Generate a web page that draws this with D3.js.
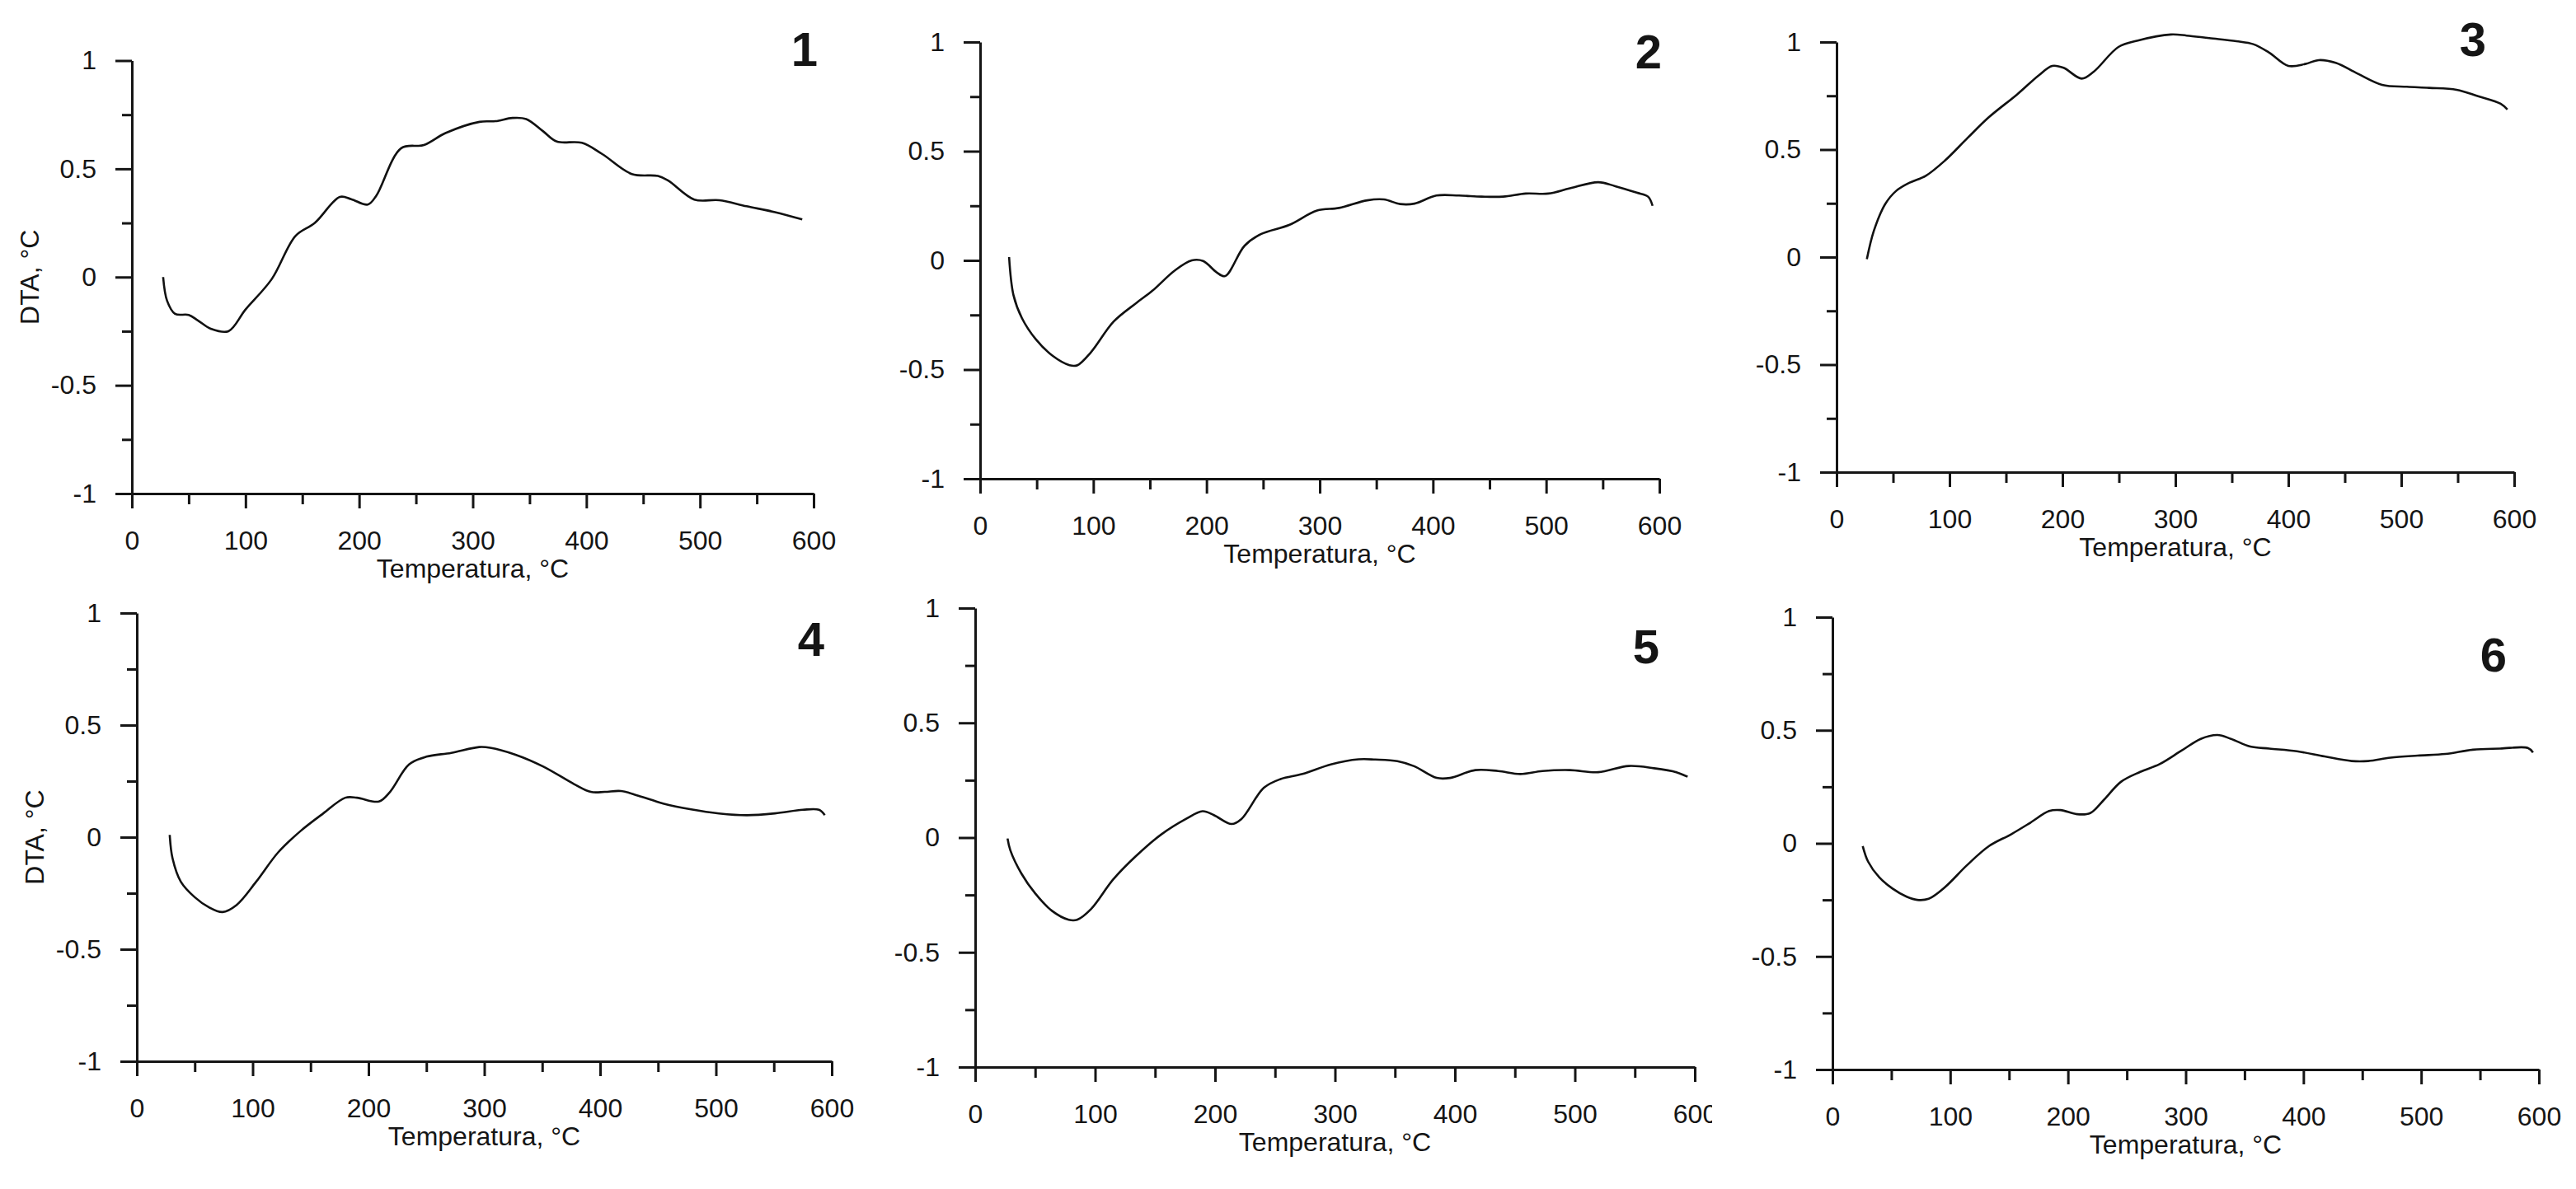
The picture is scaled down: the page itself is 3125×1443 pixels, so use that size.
<!DOCTYPE html>
<html>
<head>
<meta charset="utf-8">
<script src="https://cdn.jsdelivr.net/npm/d3@7"></script>
<style>
  body { margin: 0; background: #fff; }
  text { font-family: 'Liberation Sans', Arial, sans-serif; fill: #151515; }
</style>
</head>
<body>
<svg id="chart" width="3125" height="1443"></svg>
<script>
// DTA curves (temperature in °C, DTA in °C)
var temp1 = [27.5, 31, 38, 50, 58, 70, 85, 100, 123, 144, 161, 183, 193, 207.6, 215, 237, 257, 276, 306, 320, 335, 347, 362, 374, 396, 414, 440, 463, 472, 495, 517, 541, 566, 590]
var dta1 = [0, -0.11, -0.17, -0.175, -0.2, -0.24, -0.25, -0.15, -0.01, 0.19, 0.25, 0.37, 0.36, 0.335, 0.375, 0.595, 0.61, 0.665, 0.717, 0.72, 0.735, 0.73, 0.673, 0.626, 0.62, 0.568, 0.476, 0.467, 0.446, 0.358, 0.355, 0.327, 0.3, 0.266]

var temp2 = [25.6, 29.5, 37, 49, 64, 79, 86, 98, 118, 138, 152, 172, 187, 197, 209, 216.4, 233.6, 248, 273, 297.6, 317, 342, 356.6, 371, 383.7, 403, 423, 443, 462, 482, 502, 521, 546, 561, 580, 590, 594]
var dta2 = [0.015, -0.16, -0.265, -0.36, -0.437, -0.48, -0.48, -0.42, -0.28, -0.195, -0.14, -0.046, 0, -0.003, -0.055, -0.072, 0.067, 0.12, 0.162, 0.228, 0.24, 0.275, 0.279, 0.258, 0.26, 0.297, 0.297, 0.292, 0.292, 0.306, 0.306, 0.33, 0.358, 0.34, 0.31, 0.292, 0.25]

var temp3 = [26.8, 33, 43, 52.6, 64.7, 79, 96, 116, 135, 160, 179, 191, 201, 217, 227.7, 249.6, 266.7, 296, 310, 330, 354, 369, 383, 400, 415, 427, 442, 461, 483, 505, 524.6, 549, 568, 588, 594]
var dta3 = [-0.01, 0.122, 0.246, 0.307, 0.346, 0.378, 0.449, 0.554, 0.651, 0.757, 0.845, 0.889, 0.88, 0.83, 0.862, 0.977, 1.007, 1.035, 1.03, 1.018, 1.004, 0.99, 0.951, 0.889, 0.898, 0.916, 0.903, 0.854, 0.801, 0.792, 0.787, 0.778, 0.748, 0.713, 0.686]

var temp4 = [28.4, 30.8, 38, 50, 62, 74, 86, 103, 122, 141.5, 161, 180, 190, 209, 218.6, 235, 250, 271.5, 295.6, 305, 327, 351, 377.5, 392, 404, 418, 433, 454.5, 478.6, 502.6, 526.7, 551, 575, 589, 594]
var dta4 = [0.01, -0.094, -0.199, -0.268, -0.312, -0.334, -0.303, -0.199, -0.068, 0.028, 0.106, 0.176, 0.176, 0.159, 0.202, 0.324, 0.359, 0.376, 0.402, 0.399, 0.368, 0.315, 0.237, 0.202, 0.202, 0.206, 0.185, 0.15, 0.124, 0.106, 0.098, 0.106, 0.122, 0.122, 0.098]

var temp5 = [27, 29.3, 38.6, 50, 64, 78, 85, 96.7, 115, 134, 155, 175.7, 189.6, 199, 213.8, 222, 240.7, 254.6, 273, 296.5, 319.7, 333.6, 352, 366, 384.8, 396, 417, 436, 454.5, 473, 496, 519.5, 545, 566, 584.6, 594]
var dta5 = [-0.004, -0.055, -0.157, -0.243, -0.319, -0.358, -0.358, -0.311, -0.183, -0.081, 0.013, 0.081, 0.115, 0.098, 0.059, 0.081, 0.217, 0.255, 0.277, 0.319, 0.341, 0.34, 0.333, 0.311, 0.26, 0.26, 0.294, 0.29, 0.277, 0.29, 0.294, 0.285, 0.312, 0.302, 0.285, 0.265]

var temp6 = [25.7, 30.3, 39.7, 51, 63, 72, 81.7, 95.7, 114, 133, 151.7, 168, 184, 193.7, 207.7, 219, 231, 245, 261.4, 277.8, 296.5, 312.8, 327, 338.5, 354.8, 371, 394.5, 418, 441, 455, 474, 497, 520.5, 543.9, 567, 590.6, 595]
var dta6 = [-0.012, -0.081, -0.15, -0.2, -0.236, -0.25, -0.245, -0.193, -0.098, -0.012, 0.04, 0.091, 0.143, 0.147, 0.129, 0.134, 0.195, 0.272, 0.316, 0.35, 0.41, 0.462, 0.479, 0.462, 0.428, 0.419, 0.407, 0.384, 0.364, 0.364, 0.379, 0.388, 0.395, 0.414, 0.419, 0.422, 0.402]

var panelNames = ['1', '2', '3', '4', '5', '6']
var xTicks = [0, 50, 100, 150, 200, 250, 300, 350, 400, 450, 500, 550, 600]
var yTicks = [-1, -0.75, -0.5, -0.25, 0, 0.25, 0.5, 0.75, 1]
var xTitle = 'Temperatura, °C'
var yTitle = 'DTA, °C'

var temps = [temp1, temp2, temp3, temp4, temp5, temp6]
var dtas = [dta1, dta2, dta3, dta4, dta5, dta6]

// where each small plot sits on the page
var layout = [
    {left: 160, right: 987, top: 73.5, bottom: 599, numX: 976, numY: 80, yTitle: true, clipRight: 1060},
    {left: 1189, right: 2013, top: 51, bottom: 581, numX: 2000, numY: 83, yTitle: false, clipRight: 2100},
    {left: 2228, right: 3050, top: 51, bottom: 573, numX: 3000, numY: 68, yTitle: false, clipRight: 3125},
    {left: 166, right: 1009, top: 744, bottom: 1288, numX: 984, numY: 796, yTitle: true, clipRight: 1060},
    {left: 1183, right: 2056, top: 738, bottom: 1295, numX: 1997, numY: 805, yTitle: false, clipRight: 2077},
    {left: 2223, right: 3080, top: 749, bottom: 1298, numX: 3025, numY: 815, yTitle: false, clipRight: 3125}
]

var svg = d3.select('#chart')

var isMajorY = function(d) { return (d * 2) % 1 === 0 }
var isMajorX = function(d) { return d % 100 === 0 }

var drawPanel = function(i) {
    var p = layout[i]
    var x = d3.scaleLinear().domain([0, 600]).range([p.left, p.right])
    var y = d3.scaleLinear().domain([-1, 1]).range([p.bottom, p.top])

    svg.append('clipPath')
        .attr('id', 'clip' + i)
        .append('rect')
        .attr('x', p.left - 200)
        .attr('y', p.top - 80)
        .attr('width', p.clipRight - p.left + 200)
        .attr('height', p.bottom - p.top + 200)

    var g = svg.append('g').attr('clip-path', 'url(#clip' + i + ')')

    var yAxis = d3.axisLeft(y)
        .tickValues(yTicks)
        .tickSize(20)
        .tickSizeOuter(0)
        .tickPadding(23)
        .tickFormat(function(d) { return isMajorY(d) ? String(d) : '' })

    var xAxis = d3.axisBottom(x)
        .tickValues(xTicks)
        .tickSize(18)
        .tickSizeOuter(0)
        .tickPadding(27)
        .tickFormat(function(d) { return isMajorX(d) ? String(d) : '' })

    var ya = g.append('g')
        .attr('transform', 'translate(' + p.left + ',0)')
        .call(yAxis)
    var xa = g.append('g')
        .attr('transform', 'translate(0,' + p.bottom + ')')
        .call(xAxis)

    // minor ticks are shorter
    ya.selectAll('.tick line').filter(function(d) { return !isMajorY(d) }).attr('x2', -12)
    xa.selectAll('.tick line').filter(function(d) { return !isMajorX(d) }).attr('y2', 13)

    ;[ya, xa].forEach(function(a) {
        a.selectAll('path, line').attr('stroke', '#151515').attr('stroke-width', 3)
        a.selectAll('text').style('font-size', '32px').style('font-family', null).attr('fill', '#151515')
    })

    var pts = temps[i].map(function(t, k) { return [t, dtas[i][k]] })
    var line = d3.line()
        .x(function(d) { return x(d[0]) })
        .y(function(d) { return y(d[1]) })
        .curve(d3.curveCatmullRom)

    g.append('path')
        .datum(pts)
        .attr('d', line)
        .attr('fill', 'none')
        .attr('stroke', '#111')
        .attr('stroke-width', 2.6)

    g.append('text')
        .attr('x', (p.left + p.right) / 2)
        .attr('y', p.bottom + 102)
        .attr('text-anchor', 'middle')
        .style('font-size', '32px')
        .text(xTitle)

    if (p.yTitle) {
        g.append('text')
            .attr('transform', 'translate(' + (p.left - 113) + ',' + y(0) + ') rotate(-90)')
            .attr('text-anchor', 'middle')
            .style('font-size', '32px')
            .text(yTitle)
    }

    svg.append('text')
        .attr('x', p.numX)
        .attr('y', p.numY)
        .attr('text-anchor', 'middle')
        .style('font-size', '58px')
        .style('font-weight', 'bold')
        .attr('fill', '#000')
        .text(panelNames[i])
}

for (var i = 0; i < 6; i++) {
    drawPanel(i)
}
</script>
</body>
</html>
